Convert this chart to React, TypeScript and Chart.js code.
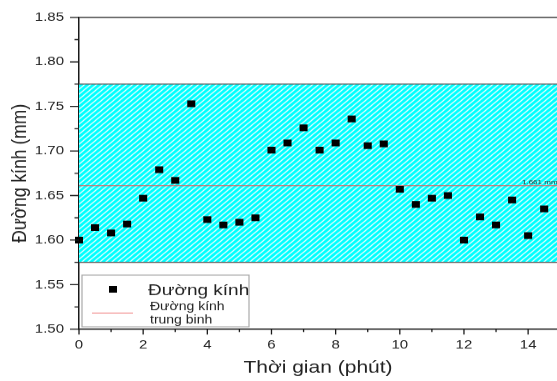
import React, { useEffect, useRef } from 'react';
import { Chart, registerables } from 'chart.js';

Chart.register(...registerables);

// ---- data ----
const timeMinutes = [0, 0.5, 1, 1.5, 2, 2.5, 3, 3.5, 4, 4.5, 5, 5.5, 6, 6.5, 7, 7.5, 8, 8.5, 9, 9.5, 10, 10.5, 11, 11.5, 12, 12.5, 13, 13.5, 14, 14.5];
const diameters = [1.600, 1.614, 1.608, 1.618, 1.647, 1.679, 1.667, 1.753, 1.623, 1.617, 1.620, 1.625, 1.701, 1.709, 1.726, 1.701, 1.709, 1.736, 1.706, 1.708, 1.657, 1.640, 1.647, 1.650, 1.600, 1.626, 1.617, 1.645, 1.605, 1.635];
const meanDiameter = 1.661;
const bandUpper = 1.775;
const bandLower = 1.575;
const xTickValues = [0, 2, 4, 6, 8, 10, 12, 14];
const yTickValues = [1.50, 1.55, 1.60, 1.65, 1.70, 1.75, 1.80, 1.85];
const xMin = 0;
const xMax = 14.9;
const yMin = 1.5;
const yMax = 1.85;
const xAxisTitle = 'Thời gian (phút)';
const yAxisTitle = 'Đường kính (mm)';
const seriesLabel = 'Đường kính';
const meanLegendLines = ['Đường kính', 'trung binh'];
const meanValueLabel = '1.661 mm';

const FAMILY = '"Liberation Sans", Arial, Helvetica, sans-serif';
const W = 557;
const H = 457; // internal height, squashed to 381 by CSS

function makePattern(ctx: CanvasRenderingContext2D) {
  const c = document.createElement('canvas');
  c.width = 6;
  c.height = 6;
  const p = c.getContext('2d')!;
  p.fillStyle = '#00FFFF';
  p.fillRect(0, 0, 6, 6);
  p.strokeStyle = 'rgba(255,255,255,0.85)';
  p.lineWidth = 1.3;
  p.beginPath();
  p.moveTo(-1, 7); p.lineTo(7, -1);
  p.moveTo(-4, 4); p.lineTo(4, -4);
  p.moveTo(2, 10); p.lineTo(10, 2);
  p.stroke();
  return ctx.createPattern(c, 'repeat');
}

const decorPlugin = {
  id: 'decor',
  beforeDatasetsDraw(chart: any) {
    const { ctx, chartArea, scales } = chart;
    const y = scales.y;
    const top = y.getPixelForValue(bandUpper);
    const bot = y.getPixelForValue(bandLower);
    ctx.save();
    const pat = makePattern(ctx);
    ctx.fillStyle = pat || '#00FFFF';
    ctx.fillRect(chartArea.left, top, chartArea.right - chartArea.left, bot - top);
    ctx.strokeStyle = '#555';
    ctx.lineWidth = 1.2;
    ctx.beginPath();
    ctx.moveTo(chartArea.left, top); ctx.lineTo(chartArea.right, top);
    ctx.moveTo(chartArea.left, bot); ctx.lineTo(chartArea.right, bot);
    ctx.stroke();
    ctx.restore();
  },
  afterDraw(chart: any) {
    const { ctx, chartArea, scales } = chart;
    const xs = scales.x;
    const ys = scales.y;
    ctx.save();
    // top frame line
    ctx.strokeStyle = '#444';
    ctx.lineWidth = 1.6;
    ctx.beginPath();
    ctx.moveTo(chartArea.left, chartArea.top);
    ctx.lineTo(chartArea.right, chartArea.top);
    ctx.stroke();
    // ticks
    ctx.strokeStyle = '#1a1a1a';
    ctx.lineWidth = 1.3;
    ctx.beginPath();
    yTickValues.forEach((v, i) => {
      const py = ys.getPixelForValue(v);
      ctx.moveTo(chartArea.left, py); ctx.lineTo(chartArea.left - 9, py);
      if (i < yTickValues.length - 1) {
        const m = (v + yTickValues[i + 1]) / 2;
        const pm = ys.getPixelForValue(m);
        ctx.moveTo(chartArea.left, pm); ctx.lineTo(chartArea.left - 4.5, pm);
      }
    });
    xTickValues.forEach((v, i) => {
      const px = xs.getPixelForValue(v);
      ctx.moveTo(px, chartArea.bottom); ctx.lineTo(px, chartArea.bottom + 6.5);
      const m = i < xTickValues.length - 1 ? (v + xTickValues[i + 1]) / 2 : v + (v - xTickValues[i - 1]) / 2;
      if (m <= xMax) {
        const pm = xs.getPixelForValue(m);
        ctx.moveTo(pm, chartArea.bottom); ctx.lineTo(pm, chartArea.bottom + 3.5);
      }
    });
    ctx.stroke();

    // mean value label
    const my = ys.getPixelForValue(meanDiameter);
    ctx.fillStyle = '#333';
    ctx.font = `8px ${FAMILY}`;
    ctx.textAlign = 'left';
    ctx.textBaseline = 'alphabetic';
    ctx.fillText(meanValueLabel, 522, my - 2);

    // legend box
    const bx = 82, by = 330, bw = 167, bh = 62;
    ctx.fillStyle = '#fff';
    ctx.fillRect(bx, by, bw, bh);
    ctx.strokeStyle = '#aaa';
    ctx.lineWidth = 1.2;
    ctx.strokeRect(bx, by, bw, bh);
    ctx.fillStyle = '#000';
    ctx.fillRect(113 - 4, 347 - 4, 8, 8);
    ctx.fillStyle = '#222';
    ctx.font = `19px ${FAMILY}`;
    ctx.textBaseline = 'middle';
    ctx.fillText(seriesLabel, 148, 349);
    ctx.strokeStyle = '#f08080';
    ctx.lineWidth = 1.2;
    ctx.beginPath();
    ctx.moveTo(92, 375.5); ctx.lineTo(133, 375.5);
    ctx.stroke();
    ctx.font = `14px ${FAMILY}`;
    ctx.fillText(meanLegendLines[0], 150, 368);
    ctx.fillText(meanLegendLines[1], 150, 384);
    ctx.restore();
  },
};

export default function App() {
  const ref = useRef<HTMLCanvasElement>(null);
  useEffect(() => {
    if (!ref.current) return;
    const chart = new Chart(ref.current, {
      type: 'scatter',
      data: {
        datasets: [
          {
            type: 'line',
            label: 'mean',
            data: [{ x: xMin, y: meanDiameter }, { x: xMax, y: meanDiameter }],
            borderColor: '#e05a5a',
            borderWidth: 1,
            pointRadius: 0,
            order: 2,
          } as any,
          {
            type: 'scatter',
            label: seriesLabel,
            data: timeMinutes.map((x, i) => ({ x, y: diameters[i] })),
            pointStyle: 'rect',
            pointRadius: 5.7,
            backgroundColor: '#000',
            borderColor: '#000',
            borderWidth: 0,
            clip: false,
            order: 1,
          } as any,
        ],
      },
      options: {
        responsive: false,
        animation: false,
        devicePixelRatio: 1,
        layout: { autoPadding: false, padding: { top: 20.8, right: 0, left: 0, bottom: 0 } },
        plugins: { legend: { display: false }, tooltip: { enabled: false } },
        scales: {
          x: {
            type: 'linear',
            position: 'bottom',
            min: xMin,
            max: xMax,
            grid: { display: false, drawTicks: false },
            border: { display: true, color: '#1a1a1a', width: 1.5 },
            ticks: {
              padding: 10,
              color: '#222',
              font: { family: FAMILY, size: 15 },
              maxRotation: 0,
              autoSkip: false,
              callback: (v: any) => String(v),
            },
            afterBuildTicks: (s: any) => { s.ticks = xTickValues.map((v) => ({ value: v })); },
            afterFit: (s: any) => { s.height = 62.2; s.paddingLeft = 0; s.paddingRight = 0; },
            title: {
              display: true,
              text: xAxisTitle,
              color: '#222',
              font: { family: FAMILY, size: 21 },
              padding: { top: 0, bottom: 3 },
            },
          },
          y: {
            type: 'linear',
            min: yMin,
            max: yMax,
            grid: { display: false, drawTicks: false },
            border: { display: true, color: '#1a1a1a', width: 1.5 },
            ticks: {
              padding: 15,
              color: '#222',
              font: { family: FAMILY, size: 15 },
              autoSkip: false,
              callback: (v: any) => Number(v).toFixed(2),
            },
            afterBuildTicks: (s: any) => { s.ticks = yTickValues.map((v) => ({ value: v })); },
            afterFit: (s: any) => { s.width = 79; s.paddingTop = 0; s.paddingBottom = 0; },
            title: {
              display: true,
              text: yAxisTitle,
              color: '#222',
              font: { family: FAMILY, size: 21 },
              padding: { top: 7.4, bottom: 0 },
            },
          },
        },
      } as any,
      plugins: [decorPlugin],
    });
    return () => chart.destroy();
  }, []);
  return (
    <div style={{ position: 'fixed', left: 0, top: 0, width: W, height: 381, overflow: 'hidden', background: '#fff' }}>
      <canvas ref={ref} width={W} height={H} style={{ width: `${W}px`, height: '381px', display: 'block' }} />
    </div>
  );
}
